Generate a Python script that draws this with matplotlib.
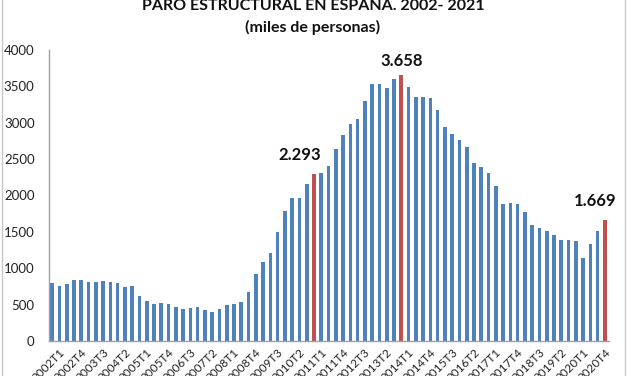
import matplotlib
matplotlib.use("Agg")
import matplotlib.pyplot as plt
from matplotlib.lines import Line2D
import matplotlib.transforms as mtransforms

plt.rcParams['font.family'] = ['Lato', 'DejaVu Sans']

years = list(range(2002, 2022))
quarters = [f"{y}T{q}" for y in years for q in range(1, 5)][:77]

values = [794, 761, 784, 835, 844, 807, 812, 821, 812, 794,
          743, 752, 619, 555, 509, 523, 509, 472, 440, 454,
          472, 431, 394, 445, 493, 505, 536, 678, 926, 1091,
          1215, 1495, 1788, 1971, 1971, 2160, 2293, 2313, 2407, 2645,
          2836, 2985, 3049, 3305, 3539, 3526, 3476, 3604, 3658, 3494,
          3356, 3356, 3338, 3182, 2944, 2843, 2769, 2664, 2444, 2393,
          2311, 2137, 1889, 1898, 1889, 1774, 1600, 1550, 1518, 1458,
          1394, 1385, 1371, 1137, 1339, 1518, 1669]

highlight = ["2011T1", "2014T1", "2021T1"]
highlight_labels = ["2.293", "3.658", "1.669"]
label_offsets = [(-10.6, 13.7), (0, 10), (-6.7, 13.7)]

title_text = "PARO ESTRUCTURAL EN ESPAÑA. 2002- 2021\n(miles de personas)"
yticks = [0, 500, 1000, 1500, 2000, 2500, 3000, 3500, 4000]

BLUE = "#4F81BD"
RED = "#C0504D"

fig = plt.figure(figsize=(6.27, 3.76), dpi=100)
ax = fig.add_axes([48.5 / 627, 1 - 341 / 376, (608.5 - 48.5) / 627, (341 - 50) / 376])

x = list(range(len(values)))
colors = [RED if q in highlight else BLUE for q in quarters]
ax.bar(x, values, width=0.5, color=colors, edgecolor='none', zorder=2)

ax.set_xlim(-0.5, len(values) - 0.5)
ax.set_ylim(0, 4000)
ax.set_yticks(yticks)
ax.set_yticklabels([str(v) for v in yticks], fontsize=9.5, color='#222222')
ax.tick_params(axis='y', length=0, pad=10)

tick_idx = list(range(0, len(values), 3))
ax.set_xticks(tick_idx)
ax.set_xticklabels([quarters[i] for i in tick_idx], rotation=45, ha='right',
                   va='top', rotation_mode='anchor', fontsize=8.5, color='#222222')
ax.tick_params(axis='x', length=0, pad=2)
offset = mtransforms.ScaledTranslation(7 / 100, -3 / 100, fig.dpi_scale_trans)
for lbl in ax.get_xticklabels():
    lbl.set_transform(lbl.get_transform() + offset)

for s in ['top', 'right']:
    ax.spines[s].set_visible(False)
for s in ['left', 'bottom']:
    ax.spines[s].set_color('#a0a0a0')
    ax.spines[s].set_linewidth(1.0)

for q, txt, off in zip(highlight, highlight_labels, label_offsets):
    i = quarters.index(q)
    ax.annotate(txt, xy=(i, values[i]), xytext=off, textcoords='offset points',
                ha='center', va='center', fontsize=12, fontweight='bold', color='#111111')

fig.text(313 / 627, 1 - 17 / 376, title_text, ha='center', va='center',
         fontsize=11.5, fontweight='bold', linespacing=1.55, color='#111111')

fig.add_artist(Line2D([1.5 / 627, 1.5 / 627], [0, 1], transform=fig.transFigure,
                      color='#c8c8c8', lw=1))
fig.add_artist(Line2D([625 / 627, 625 / 627], [0, 1], transform=fig.transFigure,
                      color='#c8c8c8', lw=1))

fig.savefig("out.png", dpi=100)
